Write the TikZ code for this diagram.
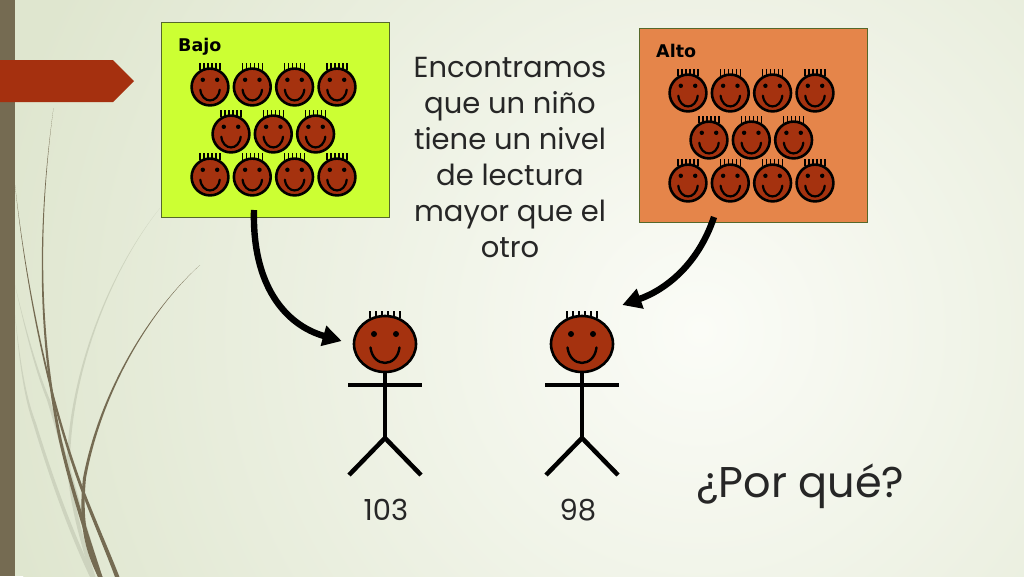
\documentclass[tikz,border=0pt]{standalone}
\usepackage{fontspec}
\setmainfont{Poppins}
\newfontfamily\labelfont{DejaVu Sans}
\usetikzlibrary{shapes.geometric,arrows.meta,calc}
\definecolor{bgin}{HTML}{FBFCF7}
\definecolor{bgout}{HTML}{DFE6CF}
\definecolor{stripe}{HTML}{756B52}
\definecolor{flagc}{HTML}{A5300F}
\definecolor{grass}{HTML}{CDD3BE}
\definecolor{skin}{HTML}{A5320F}
\definecolor{lime}{HTML}{CCFF33}
\definecolor{orangebox}{HTML}{E5854A}
\definecolor{boxline}{HTML}{55682A}
\pgfdeclareradialshading{bgshade}{\pgfpoint{0bp}{0bp}}{color(0bp)=(bgin); color(25bp)=(bgout); color(50bp)=(bgout)}
\newcommand\grassblade[8]{\fill[#1] (#2) .. controls (#3) and (#4) .. (#5) .. controls (#6) and (#7) .. (#8) -- ($(#8)+(4.5,0)$) .. controls ($(#7)+(4,0)$) and ($(#6)+(3.5,0)$) .. ($(#5)+(3,0)$) .. controls ($(#4)+(2,0)$) and ($(#3)+(1,0)$) .. cycle;}
\tikzset{
  grouplabel/.style={font=\labelfont\bfseries\fontsize{17.5}{17.5}\selectfont,inner sep=0pt},
  groupbox/.style={draw=boxline,line width=1pt,inner sep=0pt,minimum width=228pt},
  bighead/.style={ellipse,draw=black,fill=skin,line width=2.6pt,minimum width=62pt,minimum height=56pt,inner sep=0pt},
  limb/.style={draw=black,line width=4.5pt},
  bigarrow/.style={draw=black,line width=6.4pt,-{Triangle[length=19pt,width=20pt]}},
  bodytext/.style={inner sep=0pt,text=black!85!white},
  smiley/.pic={
    \draw[line width=1.6pt] (-10,-17) -- (-10,-24) (-6,-17) -- (-6,-24) (-2,-17) -- (-2,-24) (2,-17) -- (2,-24) (6,-17) -- (6,-24) (10,-17) -- (10,-24);
    \fill[skin,draw=black,line width=2.6pt] (0,0) circle (18.4);
    \fill (-7.2,-7.2) circle (2.2);
    \fill (7.2,-7.2) circle (2.2);
    \draw[line width=2.2pt,line cap=round] (-9.7,2.7) .. controls (-8,17) and (8,17) .. (9.7,2.7);
  },
  features/.pic={
    \fill (-11,-10) circle (3);
    \fill (11,-10) circle (3);
    \draw[line width=2.4pt,line cap=round] (-14.5,3.5) .. controls (-12,24) and (12,24) .. (14.5,3.5);
  },
  hairtuft/.pic={
    \draw[line width=1.7pt] (-15,-26) -- (-15,-33) (-9,-26) -- (-9,-33) (-3,-26) -- (-3,-33) (3,-26) -- (3,-33) (9,-26) -- (9,-33) (15,-26) -- (15,-33);
  }
}
\begin{document}
\begin{tikzpicture}[x=1pt,y=-1pt]
\useasboundingbox (0,0) rectangle (1024,576);
\begin{scope}
  \clip (0,0) rectangle (1024,576);
  \fill[bgout] (0,0) rectangle (1024,576);
  \shade[shading=bgshade] (700,330) circle (720);
  % light grass blades
  \grassblade{grass}{160,208}{110,270}{70,370}{67,460}{68,500}{80,540}{91,577}
  \grassblade{grass}{15,285}{25,330}{35,370}{47,400}{65,460}{80,520}{98,577}
  \grassblade{grass}{15,315}{20,370}{25,400}{33,423}{50,480}{70,535}{90,577}
  % stripe
  \fill[stripe] (0,0) rectangle (15,576);
  % dark grass blades
  \grassblade{stripe}{53.5,108}{38,220}{36,330}{59,441}{70,490}{85,535}{98,577}
  \grassblade{stripe}{15,185}{25,280}{45,390}{79,485}{92,520}{105,550}{115,577}
  \grassblade{stripe}{200,265}{150,310}{100,390}{83,478}{78,525}{85,550}{98,577}
  % flag
  \fill[flagc] (0,60) -- (113,60) -- (134,81) -- (113,102) -- (0,102) -- cycle;
\end{scope}

\node[groupbox,fill=lime,anchor=north west,minimum height=195pt] (bajo) at (161,22) {};
\node[groupbox,fill=orangebox,anchor=north west,minimum height=194pt] (alto) at (639,28) {};
\node[grouplabel,anchor=base west] (bajol) at (178,51.5) {Bajo};
\node[grouplabel,anchor=base west] (altol) at (656,57.5) {Alto};

\foreach \ox/\oy in {0/0,478/6}{
  \begin{scope}[shift={(\ox,\oy)}]
    \foreach \fx in {210,252.3,294.6,337}{
      \pic at (\fx,87) {smiley};
      \pic at (\fx,177) {smiley};
    }
    \foreach \fx in {231,273.3,315.6}{
      \pic at (\fx,134) {smiley};
    }
  \end{scope}
}

\pic at (385,344) {hairtuft};
\pic at (582,344) {hairtuft};
\node[bighead] (head1) at (385,344) {};
\node[bighead] (head2) at (582,344) {};
\pic at (head1.center) {features};
\pic at (head2.center) {features};

\foreach \h/\x in {head1/385,head2/582}{
  \coordinate (hip) at (\x,438);
  \coordinate (handl) at (\x-37,385);
  \coordinate (handr) at (\x+37,385);
  \coordinate (footl) at (\x-36,475);
  \coordinate (footr) at (\x+36,475);
  \draw[limb] (\h.south) -- (hip);
  \draw[limb] (handl) -- (handr);
  \draw[limb] (footl) -- (hip) -- (footr);
}

\draw[bigarrow] ([xshift=-21.5pt,yshift=8pt]bajo.south) .. controls (252,285) and (285,325) .. ([xshift=-11pt,yshift=3pt]head1.west);
\draw[bigarrow] ([xshift=-39.5pt,yshift=6pt]alto.south) .. controls (698,265) and (665,290) .. ([xshift=8pt,yshift=39pt]head2.east);

\node[bodytext,align=center,font=\fontsize{29}{36}\selectfont,anchor=north] (txt) at (510,57.5) {Encontramos\\que un niño\\tiene un nivel\\de lectura\\mayor que el\\otro};
\node[bodytext,font=\fontsize{29}{29}\selectfont] (n1) at (386,510) {103};
\node[bodytext,font=\fontsize{29}{29}\selectfont] (n2) at (578,510) {98};
\node[bodytext,font=\fontsize{43}{43}\selectfont] (q) at (800.5,486) {¿Por qué?};
\end{tikzpicture}
\end{document}
